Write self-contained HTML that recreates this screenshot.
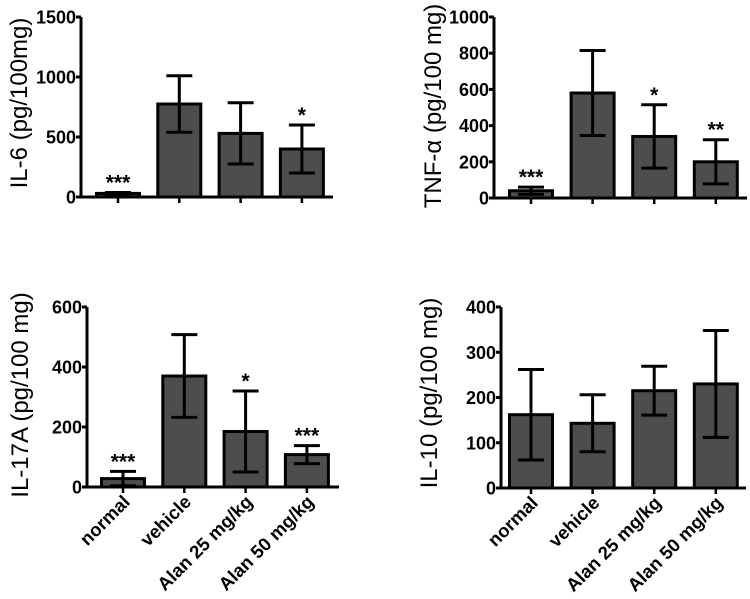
<!DOCTYPE html>
<html><head><meta charset="utf-8"><style>
body{margin:0;background:#fff}
svg{display:block;font-family:"Liberation Sans",Arial,sans-serif}
</style></head><body>
<svg id="c" width="750" height="599" viewBox="0 0 750 599"></svg>
<script>
const categories=["normal","vehicle","Alan 25 mg/kg","Alan 50 mg/kg"];
const il6Values=[30,775,530,400];
const il6Err=[8,235,255,200];
const il6Stars=["***","","","*"];
const il6Ticks=[0,500,1000,1500];
const tnfValues=[40,580,340,200];
const tnfErr=[20,235,175,122];
const tnfStars=["***","","*","**"];
const tnfTicks=[0,200,400,600,800,1000];
const il17Values=[28,370,185,108];
const il17Err=[24,138,135,30];
const il17Stars=["***","","*","***"];
const il17Ticks=[0,200,400,600];
const il10Values=[162,143,215,230];
const il10Err=[100,63,54,118];
const il10Stars=["","","",""];
const il10Ticks=[0,100,200,300,400];

const NS="http://www.w3.org/2000/svg";
const svg=document.getElementById('c');
function mk(tag,attrs,parent,text){const e=document.createElementNS(NS,tag);for(const k in attrs)e.setAttribute(k,attrs[k]);if(text!==undefined)e.textContent=text;parent.appendChild(e);return e;}

const panels=[
 {name:"il6",title:"IL-6 (pg/100mg)",vals:il6Values,err:il6Err,stars:il6Stars,ticks:il6Ticks,ax:81,x1:333,yTop:17,y0:197,max:1500,start:118,step:61.3,tx:27,ty:103,labels:false},
 {name:"tnf",title:"TNF-α (pg/100 mg)",vals:tnfValues,err:tnfErr,stars:tnfStars,ticks:tnfTicks,ax:494,x1:747,yTop:17,y0:198,max:1000,start:531,step:61.6,tx:441,ty:106,labels:false},
 {name:"il17a",title:"IL-17A (pg/100 mg)",vals:il17Values,err:il17Err,stars:il17Stars,ticks:il17Ticks,ax:87,x1:339,yTop:307,y0:487,max:600,start:123,step:61.3,tx:28,ty:395,labels:true},
 {name:"il10",title:"IL-10 (pg/100 mg)",vals:il10Values,err:il10Err,stars:il10Stars,ticks:il10Ticks,ax:501,x1:746,yTop:307,y0:488,max:400,start:531,step:61.6,tx:437,ty:393,labels:true}
];
panels.forEach(p=>{
 const g=mk('g',{},svg);
 
 
 const y=v=>p.y0-(v/p.max)*(p.y0-p.yTop);
 const bw=43;
 p.vals.forEach((v,i)=>{
  const cx=p.start+i*p.step;
  const r=mk('rect',{x:cx-bw/2,y:y(v),width:bw,height:p.y0-y(v),fill:'#4d4d4d',stroke:'#000','stroke-width':3},g);
  
  
  const e=mk('path',{d:`M${cx} ${y(v-p.err[i])}V${y(v+p.err[i])}M${cx-13} ${y(v+p.err[i])}H${cx+13}M${cx-13} ${y(v-p.err[i])}H${cx+13}`,stroke:'#000','stroke-width':3,fill:'none'},g);
  
  
  if(p.stars[i]){
   const s=mk('text',{x:cx,y:y(v+p.err[i])-3,'text-anchor':'middle','font-size':21,'font-weight':'bold'},g,p.stars[i]);
   
   
  }
  mk('line',{x1:cx,x2:cx,y1:p.y0,y2:p.y0+6,stroke:'#000','stroke-width':2.5},g);
  if(p.labels){
   const t=mk('text',{x:0,y:0,'text-anchor':'end','font-size':18.5,'font-weight':'bold',transform:`translate(${cx+8},${p.y0+16}) rotate(-45)`},g,categories[i]);
   
   
  }
 });
 const axis=mk('path',{d:`M${p.ax} ${p.yTop}V${p.y0}H${p.x1}`,stroke:'#000','stroke-width':3,fill:'none'},g);
 
 
 p.ticks.forEach(t=>{
  mk('line',{x1:p.ax-5,x2:p.ax,y1:y(t),y2:y(t),stroke:'#000','stroke-width':3},g);
  const l=mk('text',{x:p.ax-5,y:y(t)+6.5,'text-anchor':'end','font-size':18,'font-weight':'bold'},g,t);
  
  
 });
 const tt=mk('text',{x:0,y:0,'text-anchor':'middle','font-size':24,transform:`translate(${p.tx},${p.ty}) rotate(-90)`},g,p.title);
 
 
});
</script>
</body></html>
